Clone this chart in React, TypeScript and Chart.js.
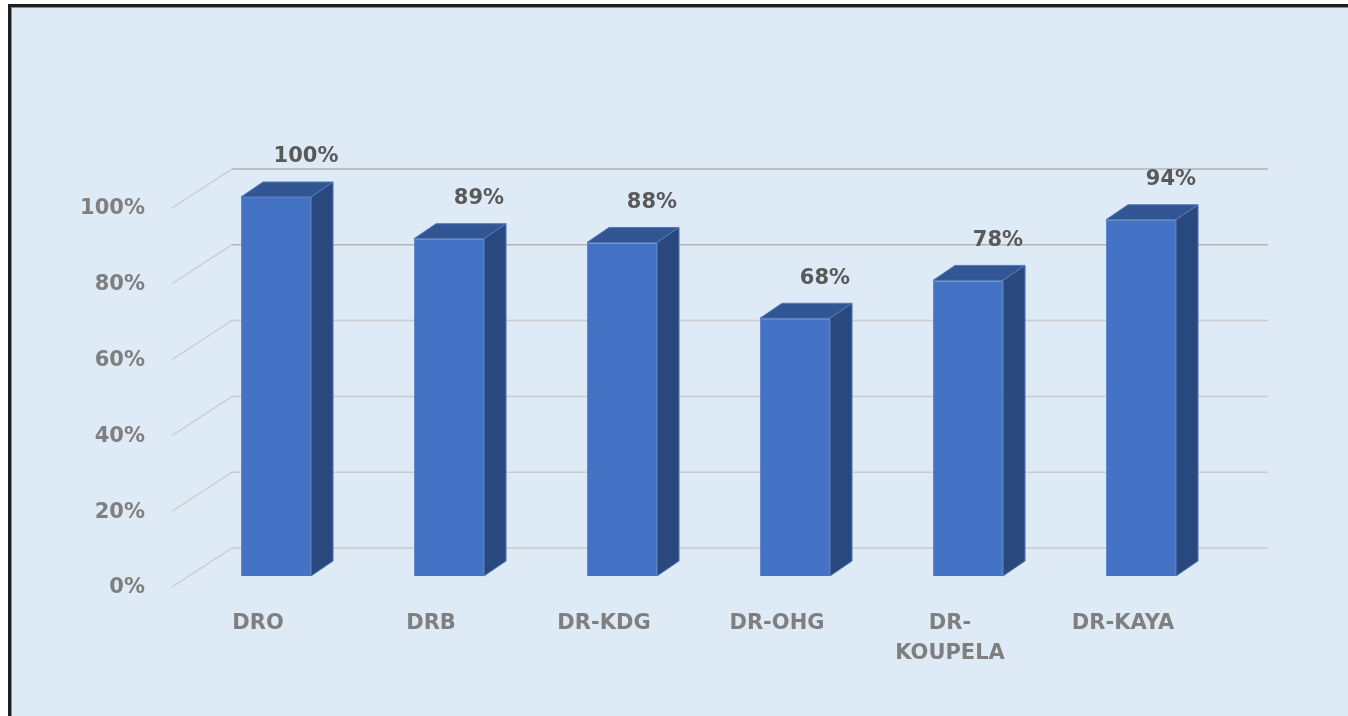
import React, { useEffect, useRef } from "react";
import { Chart, registerables } from "chart.js";

Chart.register(...registerables);

const categories = ["DRO", "DRB", "DR-KDG", "DR-OHG", "DR-KOUPELA", "DR-KAYA"];
const xLabelLines = [["DRO"], ["DRB"], ["DR-KDG"], ["DR-OHG"], ["DR-", "KOUPELA"], ["DR-KAYA"]];
const values = [100, 89, 88, 68, 78, 94];
const yTicks = [0, 20, 40, 60, 80, 100];

const FONT = "bold 21px 'DejaVu Sans', sans-serif";

const threeD = {
  id: "threeD",
  beforeDatasetsDraw(chart: any) {
    const ctx = chart.ctx;
    const y = chart.scales.y;
    const left = chart.chartArea.left;
    const right = chart.chartArea.right;
    const frontX = left - 17.5;
    const backX = left + 42.5;
    const backRight = right + 40.5;
    ctx.save();
    yTicks.forEach((v) => {
      const py = y.getPixelForValue(v);
      // back wall gridline
      ctx.strokeStyle = v >= 80 ? "#b3b3b3" : "#cbcbcb";
      ctx.lineWidth = 1.5;
      ctx.beginPath();
      ctx.moveTo(backX, py - 28);
      ctx.lineTo(backRight, py - 28);
      ctx.stroke();
      // side wall diagonal
      ctx.strokeStyle = "#c9c9c9";
      ctx.lineWidth = 1.2;
      ctx.beginPath();
      ctx.moveTo(frontX, py + 11);
      ctx.lineTo(backX, py - 28);
      ctx.stroke();
      // tick label
      ctx.fillStyle = "#7f7f7f";
      ctx.font = FONT;
      ctx.textAlign = "right";
      ctx.textBaseline = "middle";
      ctx.fillText(v + "%", 145, py + 12);
    });
    ctx.restore();
  },
  afterDatasetsDraw(chart: any) {
    const ctx = chart.ctx;
    const meta = chart.getDatasetMeta(0);
    const dx = 22;
    const dy = -15;
    ctx.save();
    meta.data.forEach((bar: any, i: number) => {
      const { x, y, base, width } = bar.getProps(["x", "y", "base", "width"], true);
      const l = x - width / 2;
      const r = x + width / 2;
      // top face
      ctx.fillStyle = "#325694";
      ctx.strokeStyle = "#5479b8";
      ctx.lineWidth = 1;
      ctx.beginPath();
      ctx.moveTo(l, y);
      ctx.lineTo(r, y);
      ctx.lineTo(r + dx, y + dy);
      ctx.lineTo(l + dx, y + dy);
      ctx.closePath();
      ctx.fill();
      ctx.stroke();
      // right face
      ctx.fillStyle = "#29487e";
      ctx.beginPath();
      ctx.moveTo(r, y);
      ctx.lineTo(r + dx, y + dy);
      ctx.lineTo(r + dx, base + dy);
      ctx.lineTo(r, base);
      ctx.closePath();
      ctx.fill();
      ctx.stroke();
      // data label
      ctx.fillStyle = "#595959";
      ctx.font = FONT;
      ctx.textAlign = "center";
      ctx.textBaseline = "middle";
      ctx.fillText(values[i] + "%", x + 30, y - 40);
      // category label
      ctx.fillStyle = "#7f7f7f";
      const lines = xLabelLines[i];
      lines.forEach((t, k) => {
        ctx.fillText(t, x - 18, 624 - (base - 576) + k * 30);
      });
    });
    ctx.restore();
  },
};

export default function App() {
  const ref = useRef<HTMLCanvasElement>(null);
  useEffect(() => {
    if (!ref.current) return;
    const chart = new Chart(ref.current, {
      type: "bar",
      data: {
        labels: categories,
        datasets: [
          {
            data: values,
            backgroundColor: "#4472c4",
            borderColor: "#5f86cc",
            borderWidth: 1,
            barPercentage: 0.405,
            categoryPercentage: 1,
          },
        ],
      },
      options: {
        animation: false,
        responsive: false,
        devicePixelRatio: 1,
        layout: { padding: { left: 189.5, right: 120.5, top: 197, bottom: 140 } },
        plugins: { legend: { display: false }, tooltip: { enabled: false }, title: { display: false } },
        scales: {
          x: { display: false },
          y: { display: false, min: 0, max: 100 },
        },
      },
      plugins: [threeD],
    });
    return () => chart.destroy();
  }, []);
  return (
    <div style={{ position: "fixed", left: 0, top: 0, width: 1348, height: 716, overflow: "hidden", background: "#ffffff" }}>
      <div
        style={{
          position: "absolute",
          left: 8,
          top: 4,
          width: 1400,
          height: 800,
          border: "3px solid #1f1f1f",
          boxShadow: "inset 1px 1px 0 #8a8a8a",
          background: "#deeaf6",
          boxSizing: "border-box",
        }}
      />
      <canvas ref={ref} width={1348} height={716} style={{ position: "absolute", left: 0, top: 0, width: 1348, height: 716 }} />
    </div>
  );
}
